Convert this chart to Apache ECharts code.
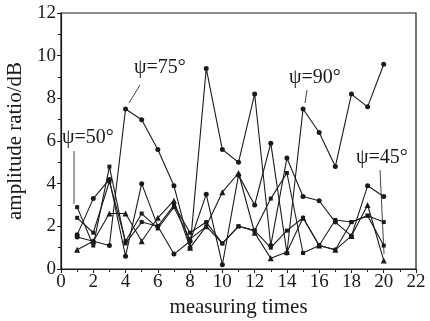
<!DOCTYPE html>
<html>
<head>
<meta charset="utf-8">
<script src="https://cdn.jsdelivr.net/npm/echarts@6/dist/echarts.min.js"></script>
<style>
  html, body { margin: 0; padding: 0; background: #fff; }
  #chart { width: 430px; height: 321px; }
</style>
</head>
<body>
<div id="chart"></div>
<script>
// measuring times 1..20
const times = [1, 2, 3, 4, 5, 6, 7, 8, 9, 10, 11, 12, 13, 14, 15, 16, 17, 18, 19, 20]
const psi75 = [1.5, 1.3, 1.1, 7.5, 7.0, 5.6, 3.9, 1.0, 9.4, 5.6, 5.0, 8.2, 1.1, 5.2, 3.4, 3.2, 2.2, 1.55, 3.9, 3.4]
const psi90 = [1.6, 3.3, 4.2, 0.6, 4.0, 2.0, 0.7, 1.3, 3.5, 0.2, 4.4, 3.0, 5.9, 0.75, 7.5, 6.4, 4.8, 8.2, 7.6, 9.6]
const psi50 = [2.9, 1.1, 4.8, 1.2, 2.2, 2.0, 3.0, 1.7, 2.2, 1.2, 2.0, 1.8, 3.3, 4.5, 0.75, 1.1, 2.3, 2.2, 2.5, 1.1]
const psi60 = [2.4, 1.7, 4.1, 1.3, 2.6, 1.9, 2.9, 1.4, 2.0, 1.2, 2.0, 1.8, 1.0, 1.8, 2.4, 1.1, 0.9, 2.2, 2.5, 2.2]
const psi45 = [0.9, 1.3, 2.6, 2.6, 1.3, 2.4, 3.2, 1.0, 2.0, 3.6, 4.5, 1.7, 0.5, 0.8, 2.4, 1.1, 0.9, 1.55, 3.0, 0.4]

const xTicks = [0, 2, 4, 6, 8, 10, 12, 14, 16, 18, 20, 22]
const yTicks = [0, 2, 4, 6, 8, 10, 12]

const chart = echarts.init(document.getElementById('chart'))
const font = 'Liberation Serif'
const ink = '#1a1a1a'

const pairs = arr => arr.map((v, i) => [times[i], v])

const makeSeries = (name, arr, symbol, size) => ({
    name: name,
    type: 'line',
    data: pairs(arr),
    symbol: symbol,
    symbolSize: size,
    showSymbol: true,
    lineStyle: { color: ink, width: 1.1 },
    itemStyle: { color: ink },
    animation: false
})

// annotation text + leader lines
const label = (text, x, y) => ({
    type: 'text', left: x, top: y,
    style: { text: text, font: '20px "Liberation Serif"', fill: ink }
})
const leader = (x1, y1, x2, y2) => ({
    type: 'line', shape: { x1, y1, x2, y2 },
    style: { stroke: '#444', lineWidth: 1 }
})

const option = {
    backgroundColor: '#fff',
    animation: false,
    grid: {
        left: 61, right: 14, top: 13, bottom: 52,
        outerBoundsMode: 'none',
        containLabel: false,
        show: true, borderColor: ink, borderWidth: 1.2
    },
    xAxis: {
        type: 'value',
        min: 0, max: 22, interval: 2,
        name: 'measuring times',
        nameLocation: 'middle',
        nameGap: 23,
        nameTextStyle: { fontFamily: font, fontSize: 21, color: ink },
        axisLine: { onZero: false, lineStyle: { color: ink, width: 1.2 } },
        axisTick: { show: true, length: 4, lineStyle: { color: ink } },
        minorTick: { show: true, splitNumber: 2, length: 3, lineStyle: { color: ink } },
        axisLabel: { fontFamily: font, fontSize: 19, color: ink, margin: 4,
            formatter: v => xTicks.includes(v) ? String(v) : '' },
        splitLine: { show: false }
    },
    yAxis: {
        type: 'value',
        min: 0, max: 12, interval: 2,
        name: 'amplitude ratio/dB',
        nameLocation: 'middle',
        nameGap: 33,
        nameTextStyle: { fontFamily: font, fontSize: 21, color: ink },
        axisLine: { lineStyle: { color: ink, width: 1.2 } },
        axisTick: { show: true, length: 4, lineStyle: { color: ink } },
        minorTick: { show: true, splitNumber: 2, length: 3, lineStyle: { color: ink } },
        axisLabel: { fontFamily: font, fontSize: 19, color: ink, margin: 5,
            formatter: v => yTicks.includes(v) ? String(v) : '' },
        splitLine: { show: false }
    },
    series: [
        makeSeries('ψ=75°', psi75, 'circle', 5),
        makeSeries('ψ=90°', psi90, 'circle', 5),
        makeSeries('ψ=50°', psi50, 'rect', 4),
        makeSeries('ψ=60°', psi60, 'rect', 4),
        makeSeries('ψ=45°', psi45, 'triangle', 6)
    ],
    graphic: [
        label('ψ=75°', 134, 58),
        leader(140, 85, 129, 103),
        label('ψ=50°', 62, 128),
        leader(74, 151, 74, 204),
        label('ψ=90°', 289, 68),
        leader(307, 90, 305, 103),
        label('ψ=45°', 356, 148),
        leader(380, 170, 384, 254)
    ]
}
chart.setOption(option)
</script>
</body>
</html>
